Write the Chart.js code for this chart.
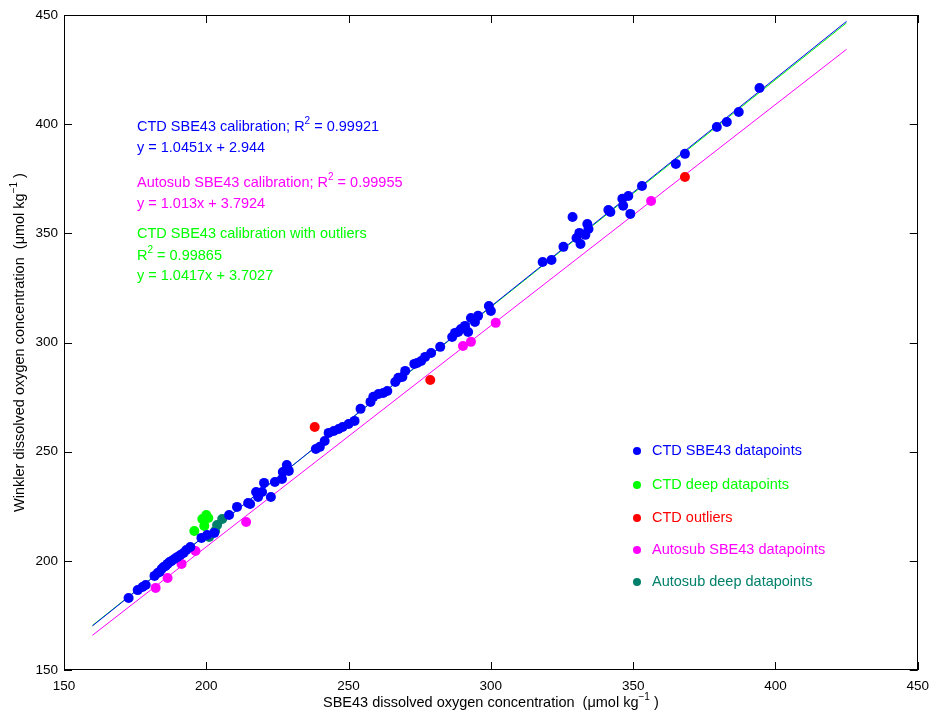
<!DOCTYPE html>
<html><head><meta charset="utf-8">
<script src="https://cdn.jsdelivr.net/npm/chart.js@4"></script>
<style>html,body{margin:0;padding:0;background:#fff}#wrap{width:937px;height:713px}</style>
</head><body><div id="wrap"><canvas id="c" width="937" height="713"></canvas></div>
<script>
// ---- data ----
const ctdX = [172.7,175.9,177.6,178.7,181.8,182.9,183.6,184.3,185.0,185.7,186.4,187.1,187.8,188.8,189.9,190.9,192.0,193.0,194.4,198.3,200.3,202.8,208.0,210.8,214.7,215.4,217.5,218.2,219.6,220.3,222.7,224.1,226.6,226.9,228.3,229.0,238.5,239.9,241.6,243.0,244.8,246.5,247.9,250.0,252.1,254.2,257.7,258.7,260.5,262.2,263.6,266.4,267.5,268.9,269.9,273.1,274.1,275.5,276.9,279.0,282.2,286.4,287.4,288.5,289.5,290.9,292.0,293.0,294.4,295.5,299.3,300.0,318.2,321.3,325.5,328.7,330.1,331.1,331.5,333.2,333.9,334.3,341.3,342.0,346.2,346.5,348.3,349.0,353.1,365.0,368.2,379.4,382.9,387.1,394.4];
const ctdY = [183.0,186.6,188.0,188.9,193.1,194.4,194.9,196.3,197.2,197.6,198.6,199.5,199.9,200.8,201.8,202.7,203.6,205.0,206.3,210.5,211.8,212.8,221.0,224.7,226.5,226.0,231.5,229.2,231.5,235.7,229.2,236.1,237.5,240.7,243.9,241.2,251.2,252.2,254.9,258.6,259.5,260.4,261.3,262.7,264.1,269.6,272.8,275.1,276.4,276.9,277.8,281.9,283.8,284.2,287.0,290.2,290.6,291.5,293.4,295.2,298.0,302.5,304.4,304.8,306.2,307.6,304.8,311.2,309.4,312.2,316.7,314.4,336.9,337.8,343.8,357.5,347.9,350.2,345.1,349.3,354.3,352.0,360.7,359.8,365.8,362.6,367.1,358.9,371.7,381.8,386.4,398.7,401.0,405.6,416.6];
const ctdDeepX = [195.8,198.6,200.0,200.7,199.3];
const ctdDeepY = [213.7,219.2,221.0,219.6,216.0];
const outlierX = [238.1,278.7,368.2];
const outlierY = [261.3,282.8,375.8];
const autoX = [182.2,186.4,191.3,196.2,214.0,290.2,293.0,301.7,356.3];
const autoY = [187.6,192.1,198.6,204.5,217.8,298.4,300.3,309.0,364.8];
const autoDeepX = [201.0,203.1,203.8,205.6];
const autoDeepY = [210.9,213.7,216.4,219.2];
// fit line end points (as read)
const ctdFitX = [160,425], ctdFitY = [170.2,447.1];
const outFitX = [160,425], outFitY = [170.4,446.4];
const autoFitX = [160,425], autoFitY = [165.9,434.3];
const xTicks = [150,200,250,300,350,400,450];
const yTicks = [150,200,250,300,350,400,450];
const legendLabels = ['CTD SBE43 datapoints','CTD deep datapoints','CTD outliers','Autosub SBE43 datapoints','Autosub deep datapoints'];

const BLUE='#0000ff', GREEN='#00ff00', RED='#ff0000', MAG='#ff00ff', TEAL='#00806a';
const pts = (xs,ys)=>xs.map((x,i)=>({x:x,y:ys[i]}));
const FONT = '"Liberation Sans", Arial, Helvetica, sans-serif';

function ptDs(label,xs,ys,color,ord){
  return {type:'scatter',label:label,order:ord,data:pts(xs,ys),backgroundColor:color,borderColor:color,borderWidth:0,pointRadius:5,pointHoverRadius:5};
}
function lineDs(label,xs,ys,color,ord){
  return {type:'line',label:label,order:ord,data:pts(xs,ys),borderColor:color,borderWidth:1,pointRadius:0,fill:false,showLine:true};
}

function drawSegs(ctx,segs,x,y,size,color,align){
  ctx.fillStyle=color; ctx.textBaseline='middle';
  const supSize=Math.round(size*0.7);
  let w=0;
  segs.forEach(s=>{ctx.font=(s[1]?supSize:size)+'px '+FONT; w+=ctx.measureText(s[0]).width;});
  let cx = align==='center'? x-w/2 : x;
  ctx.textAlign='left';
  segs.forEach(s=>{
    ctx.font=(s[1]?supSize:size)+'px '+FONT;
    ctx.fillText(s[0],cx,s[1]? y-size*0.42 : y);
    cx+=ctx.measureText(s[0]).width;
  });
}

const decor = {
  id:'decor',
  afterDraw(chart){
    const ctx=chart.ctx, a=chart.chartArea, xs=chart.scales.x, ys=chart.scales.y;
    ctx.save();
    ctx.strokeStyle='#000'; ctx.lineWidth=1;
    ctx.strokeRect(Math.round(a.left)+0.5,Math.round(a.top)+0.5,Math.round(a.right-a.left)-1,Math.round(a.bottom-a.top)-1);
    const tl=8;
    ctx.beginPath();
    xTicks.forEach(v=>{const p=Math.round(xs.getPixelForValue(v))+0.5;
      ctx.moveTo(p,a.bottom);ctx.lineTo(p,a.bottom-tl);ctx.moveTo(p,a.top);ctx.lineTo(p,a.top+tl);});
    yTicks.forEach(v=>{const p=Math.round(ys.getPixelForValue(v))+0.5;
      ctx.moveTo(a.left,p);ctx.lineTo(a.left+tl,p);ctx.moveTo(a.right,p);ctx.lineTo(a.right-tl,p);});
    ctx.stroke();
    const L=a.left+73, fs=14.5;
    drawSegs(ctx,[['CTD SBE43 calibration; R'],['2',1],[' = 0.99921']],L,127,fs,BLUE);
    drawSegs(ctx,[['y = 1.0451x + 2.944']],L,148,fs,BLUE);
    drawSegs(ctx,[['Autosub SBE43 calibration; R'],['2',1],[' = 0.99955']],L,183,fs,MAG);
    drawSegs(ctx,[['y = 1.013x + 3.7924']],L,204,fs,MAG);
    drawSegs(ctx,[['CTD SBE43 calibration with outliers']],L,234,fs,GREEN);
    drawSegs(ctx,[['R'],['2',1],[' = 0.99865']],L,256,fs,GREEN);
    drawSegs(ctx,[['y = 1.0417x + 3.7027']],L,276,fs,GREEN);
    const cols=[BLUE,GREEN,RED,MAG,TEAL], ly=[451,485,518,550,582];
    legendLabels.forEach((t,i)=>{
      ctx.fillStyle=cols[i]; ctx.beginPath(); ctx.arc(637,ly[i],4,0,Math.PI*2); ctx.fill();
      drawSegs(ctx,[[t]],652,ly[i],14.5,cols[i],'left');
    });
    drawSegs(ctx,[['SBE43 dissolved oxygen concentration  (\u03bcmol kg'],['\u22121',1],[' )']],(a.left+a.right)/2,703,14.5,'#000','center');
    ctx.translate(20,(a.top+a.bottom)/2); ctx.rotate(-Math.PI/2);
    drawSegs(ctx,[['Winkler dissolved oxygen concentration  (\u03bcmol kg'],['\u22121',1],[' )']],0,0,14.5,'#000','center');
    ctx.restore();
  }
};

new Chart(document.getElementById('c'),{
  type:'scatter',
  data:{datasets:[
    ptDs(legendLabels[0],ctdX,ctdY,BLUE,0),
    ptDs(legendLabels[1],ctdDeepX,ctdDeepY,GREEN,0),
    ptDs(legendLabels[2],outlierX,outlierY,RED,0),
    ptDs(legendLabels[3],autoX,autoY,MAG,0),
    ptDs(legendLabels[4],autoDeepX,autoDeepY,TEAL,0),
    lineDs('outlier fit',outFitX,outFitY,GREEN,3),
    lineDs('CTD fit',ctdFitX,ctdFitY,BLUE,2),
    lineDs('Autosub fit',autoFitX,autoFitY,MAG,2)
  ]},
  options:{
    responsive:false, animation:false, devicePixelRatio:1,
    layout:{padding:{top:15,right:15,left:0,bottom:0}},
    plugins:{legend:{display:false},tooltip:{enabled:false}},
    scales:{
      x:{type:'linear',min:150,max:450,
        afterBuildTicks(s){s.ticks=xTicks.map(v=>({value:v}));},
        afterFit(s){s.height=43;},
        grid:{display:false,drawTicks:false}, border:{display:false},
        ticks:{padding:8,color:'#000',font:{family:FONT,size:13.5},maxRotation:0}},
      y:{type:'linear',min:150,max:450,
        afterBuildTicks(s){s.ticks=yTicks.map(v=>({value:v}));},
        afterFit(s){s.width=64;},
        grid:{display:false,drawTicks:false}, border:{display:false},
        ticks:{padding:6,color:'#000',font:{family:FONT,size:13.5}}}
    }
  },
  plugins:[decor]
});
</script></body></html>
